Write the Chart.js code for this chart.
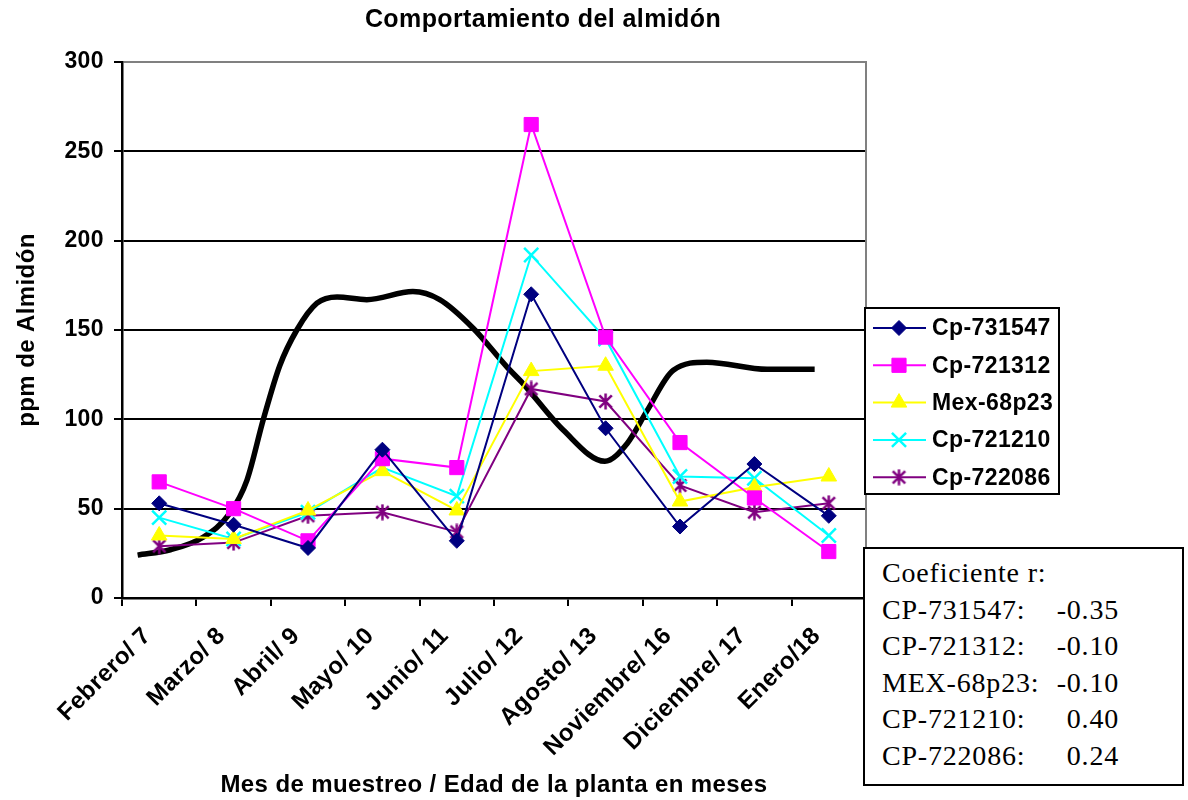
<!DOCTYPE html>
<html lang="es">
<head>
<meta charset="utf-8">
<title>Comportamiento del almidón</title>
<script src="https://cdn.jsdelivr.net/npm/chart.js@4.4.1/dist/chart.umd.min.js"></script>
<style>
  html, body { margin: 0; padding: 0; background: #fff; }
  #lienzo { position: relative; width: 1188px; height: 800px; background: #fff; }
  #grafica { position: absolute; left: 0; top: 0; width: 1188px; height: 800px; }
  #coef {
    position: absolute; left: 863px; top: 547px; width: 321px; height: 239px;
    box-sizing: border-box; border: 2px solid #000; background: #fff;
    padding: 6px 0 0 17px;
    font-family: 'Liberation Serif', 'Times New Roman', serif;
    font-size: 28px; line-height: 36.5px; letter-spacing: 0.8px; color: #000;
  }
  #coef .fila { display: flex; justify-content: space-between; width: 237px; white-space: pre; }
</style>
</head>
<body>
<div id="lienzo">
  <canvas id="grafica" width="1188" height="800"></canvas>
  <div id="coef"></div>
</div>
<script>
// Meses de muestreo / edad de la planta
const meses = ['Febrero/ 7', 'Marzo/ 8', 'Abril/ 9', 'Mayo/ 10', 'Junio/ 11',
               'Julio/ 12', 'Agosto/ 13', 'Noviembre/ 16', 'Diciembre/ 17', 'Enero/18'];

// ppm de almidón por variedad
const cp731547 = [53, 41, 28, 83, 32, 170, 95, 40, 75, 46];
const cp721312 = [65, 50, 32, 78, 73, 265, 146, 87, 56, 26];
const mex68p23 = [35, 33, 49, 71, 49, 127, 130, 54, 62, 68];
const cp721210 = [45, 33, 48, 73, 57, 192, 145, 68, 67, 35];
const cp722086 = [29, 31, 46, 48, 37, 117, 110, 63, 48, 53];

// Curva suavizada de referencia (posición en meses de la escala, valor)
const curvaX = [-0.29, 0.15, 0.59, 0.95, 1.18, 1.40, 1.62, 1.85, 2.12, 2.39, 2.79, 3.41,
                3.77, 4.22, 4.67, 4.89, 5.43, 5.99, 6.29, 6.56, 6.91, 7.36, 8.17, 8.81];
const curvaY = [24, 27, 34, 47.5, 66, 100, 130, 150, 165, 168.5, 167, 171.5,
                167, 151, 129.5, 120, 94, 76.5, 86.5, 105, 127.5, 132, 128, 128];

// Coeficientes de correlación
const coefNombres = ['CP-731547:', 'CP-721312:', 'MEX-68p23:', 'CP-721210:', 'CP-722086:'];
const coefValores = [-0.35, -0.10, -0.10, 0.40, 0.24];

const FUENTE = "'Liberation Sans', Arial, sans-serif";
const ESPACIADO = '0.4px';

// Asterisco de seis brazos (vertical + aspa) como marcador
function asterisco(color, size, lw) {
  const c = document.createElement('canvas');
  c.width = size; c.height = size;
  const g = c.getContext('2d');
  g.strokeStyle = color; g.lineWidth = lw;
  const m = size / 2, r = size / 2 - 0.5, d = r * 0.78;
  g.beginPath();
  g.moveTo(m, m - r); g.lineTo(m, m + r);
  g.moveTo(m - d, m - d); g.lineTo(m + d, m + d);
  g.moveTo(m + d, m - d); g.lineTo(m - d, m + d);
  g.stroke();
  return c;
}

const series = [
  { label: 'Cp-731547', data: cp731547, color: '#000080', pointStyle: 'rectRot',  radius: 7.5, bw: 1 },
  { label: 'Cp-721312', data: cp721312, color: '#FF00FF', pointStyle: 'rect',     radius: 10,  bw: 1 },
  { label: 'Mex-68p23', data: mex68p23, color: '#FFFF00', pointStyle: 'triangle', radius: 9,   bw: 1 },
  { label: 'Cp-721210', data: cp721210, color: '#00FFFF', pointStyle: 'crossRot', radius: 10,  bw: 2.5 },
  { label: 'Cp-722086', data: cp722086, color: '#800080', pointStyle: asterisco('#800080', 17, 2.5), radius: 8, bw: 1 }
];

const datasets = series.map(s => ({
  label: s.label,
  data: s.data,
  borderColor: s.color,
  backgroundColor: s.color,
  borderWidth: 2,
  pointStyle: s.pointStyle,
  pointRadius: s.radius,
  pointBackgroundColor: s.color,
  pointBorderColor: s.color,
  pointBorderWidth: s.bw,
  tension: 0,
  order: 0
}));

datasets.push({
  label: 'curva',
  data: curvaX.map((x, i) => ({ x: x, y: curvaY[i] })),
  xAxisID: 'xc',
  yAxisID: 'y',
  borderColor: '#000',
  borderWidth: 5.5,
  pointRadius: 0,
  cubicInterpolationMode: 'monotone',
  order: 1
});

// Espaciado de letra para todo el texto del lienzo
const espaciado = {
  id: 'espaciado',
  beforeUpdate(chart) { chart.ctx.letterSpacing = ESPACIADO; },
  beforeDraw(chart) { chart.ctx.letterSpacing = ESPACIADO; }
};

// Leyenda enmarcada a la derecha del área de trazado
const leyenda = {
  id: 'leyendaCaja',
  afterDraw(chart) {
    const ctx = chart.ctx;
    const a = chart.chartArea;
    const x0 = a.right - 1, y0 = a.top + 246, w = 194, h = 186;
    ctx.save();
    ctx.letterSpacing = ESPACIADO;
    ctx.fillStyle = '#fff';
    ctx.fillRect(x0, y0, w, h);
    ctx.strokeStyle = '#000';
    ctx.lineWidth = 2;
    ctx.strokeRect(x0, y0, w, h);
    series.forEach((s, i) => {
      const y = y0 + 20 + i * 37.3;
      ctx.strokeStyle = s.color;
      ctx.lineWidth = 2;
      ctx.beginPath();
      ctx.moveTo(x0 + 8, y);
      ctx.lineTo(x0 + 61, y);
      ctx.stroke();
      ctx.fillStyle = s.color;
      ctx.lineWidth = s.bw;
      Chart.helpers.drawPoint(ctx, { pointStyle: s.pointStyle, radius: s.radius, rotation: 0, borderWidth: s.bw }, x0 + 34, y);
      ctx.fillStyle = '#000';
      ctx.font = 'bold 23px ' + FUENTE;
      ctx.textAlign = 'left';
      ctx.textBaseline = 'middle';
      ctx.fillText(s.label, x0 + 67, y + 1);
    });
    ctx.restore();
  }
};

const fuente = (size) => ({ family: FUENTE, size: size, weight: 'bold' });

new Chart(document.getElementById('grafica'), {
  type: 'line',
  data: { labels: meses, datasets: datasets },
  options: {
    responsive: false,
    animation: false,
    devicePixelRatio: 1,
    layout: { padding: { left: 0, right: 102, top: 0, bottom: 0 } },
    plugins: {
      legend: { display: false },
      tooltip: { enabled: false },
      title: {
        display: true,
        text: 'Comportamiento del almidón',
        color: '#000',
        font: fuente(25),
        padding: { top: 5, bottom: 27 }
      }
    },
    scales: {
      x: {
        type: 'category',
        offset: true,
        grid: { offset: true, drawOnChartArea: false, drawTicks: true, tickLength: 8, color: '#000', lineWidth: 2 },
        border: { color: '#000', width: 2.5 },
        ticks: { color: '#000', font: fuente(24), maxRotation: 45, minRotation: 45, autoSkip: false, padding: 16, labelOffset: -12 },
        title: {
          display: true,
          text: 'Mes de muestreo / Edad de la planta en meses',
          color: '#000',
          font: fuente(24),
          padding: { top: 0, bottom: 0 }
        },
        afterFit(scale) { scale.height = 202; }
      },
      xc: { type: 'linear', axis: 'x', position: 'bottom', display: false, min: -0.5, max: 9.5 },
      y: {
        min: 0,
        max: 300,
        ticks: { stepSize: 50, color: '#000', font: fuente(23), padding: 10 },
        grid: {
          color: c => (c.tick && c.tick.value === 300 ? '#808080' : '#000'),
          tickColor: '#000',
          lineWidth: 2,
          tickLength: 8
        },
        border: { color: '#000', width: 2.5 },
        title: {
          display: true,
          text: 'ppm de Almidón',
          color: '#000',
          font: fuente(24),
          padding: { top: 13, bottom: 0 }
        },
        afterFit(scale) { scale.width = 122; }
      },
      yR: {
        position: 'right',
        min: 0,
        max: 300,
        grid: { display: false, drawTicks: false },
        ticks: { display: false },
        border: { color: '#808080', width: 2 },
        afterFit(scale) { scale.width = 220; }
      }
    }
  },
  plugins: [espaciado, leyenda]
});

// Recuadro de coeficientes r
const coef = document.getElementById('coef');
const cab = document.createElement('div');
cab.textContent = 'Coeficiente r:';
coef.appendChild(cab);
coefNombres.forEach((n, i) => {
  const fila = document.createElement('div');
  fila.className = 'fila';
  const a = document.createElement('span');
  a.textContent = n;
  const b = document.createElement('span');
  b.textContent = coefValores[i].toFixed(2);
  fila.appendChild(a);
  fila.appendChild(b);
  coef.appendChild(fila);
});
</script>
</body>
</html>
